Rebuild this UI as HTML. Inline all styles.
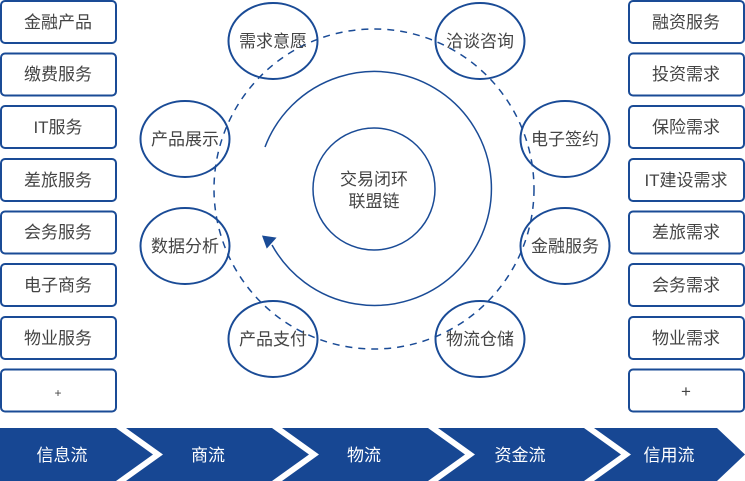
<!DOCTYPE html>
<html><head><meta charset="utf-8"><style>
body{margin:0;width:745px;height:481px;overflow:hidden;background:#fff}
svg{display:block}
text{font-family:"Liberation Sans","Noto Sans CJK SC",sans-serif}
</style></head><body>
<svg width="745" height="481" viewBox="0 0 745 481">
<g fill="none" stroke="#1a4b96" stroke-width="2">
<rect x="1" y="1" width="115" height="42" rx="4"/>
<rect x="1" y="53.5" width="115" height="42" rx="4"/>
<rect x="1" y="106" width="115" height="42" rx="4"/>
<rect x="1" y="159" width="115" height="42" rx="4"/>
<rect x="1" y="211.5" width="115" height="42" rx="4"/>
<rect x="1" y="264" width="115" height="42" rx="4"/>
<rect x="1" y="317" width="115" height="42" rx="4"/>
<rect x="1" y="369.5" width="115" height="42" rx="4"/>
<rect x="629" y="1" width="115" height="42" rx="4"/>
<rect x="629" y="53.5" width="115" height="42" rx="4"/>
<rect x="629" y="106" width="115" height="42" rx="4"/>
<rect x="629" y="159" width="115" height="42" rx="4"/>
<rect x="629" y="211.5" width="115" height="42" rx="4"/>
<rect x="629" y="264" width="115" height="42" rx="4"/>
<rect x="629" y="317" width="115" height="42" rx="4"/>
<rect x="629" y="369.5" width="115" height="42" rx="4"/>
<ellipse cx="273" cy="41" rx="44.5" ry="38"/>
<ellipse cx="480" cy="41" rx="44.5" ry="38"/>
<ellipse cx="185" cy="139" rx="44.5" ry="38"/>
<ellipse cx="565" cy="139" rx="44.5" ry="38"/>
<ellipse cx="185" cy="246" rx="44.5" ry="38"/>
<ellipse cx="565" cy="246" rx="44.5" ry="38"/>
<ellipse cx="273" cy="339" rx="44.5" ry="38"/>
<ellipse cx="480" cy="339" rx="44.5" ry="38"/>
</g>
<g fill="none" stroke="#1a4b96" stroke-width="1.5">
<circle cx="374" cy="189" r="160" stroke-dasharray="7 6"/>
<circle cx="374" cy="189" r="61"/>
<path d="M265 147 A117 117 0 1 1 272 245"/>
</g>
<polygon points="264,233 264,247 277,240" fill="#1a4b96" transform="rotate(-20 270 240)"/>
<g font-size="17" fill="#444" text-anchor="middle">
<text x="58" y="28">金融产品</text>
<text x="58" y="80">缴费服务</text>
<text x="58" y="133">IT服务</text>
<text x="58" y="186">差旅服务</text>
<text x="58" y="238">会务服务</text>
<text x="58" y="291">电子商务</text>
<text x="58" y="344">物业服务</text>
<text x="58" y="397" font-size="12">+</text>
<text x="686" y="28">融资服务</text>
<text x="686" y="80">投资需求</text>
<text x="686" y="133">保险需求</text>
<text x="686" y="186">IT建设需求</text>
<text x="686" y="238">差旅需求</text>
<text x="686" y="291">会务需求</text>
<text x="686" y="344">物业需求</text>
<text x="686" y="397">+</text>
<text x="273" y="47">需求意愿</text>
<text x="480" y="47">洽谈咨询</text>
<text x="185" y="145">产品展示</text>
<text x="565" y="145">电子签约</text>
<text x="185" y="252">数据分析</text>
<text x="565" y="252">金融服务</text>
<text x="273" y="345">产品支付</text>
<text x="480" y="345">物流仓储</text>
<text x="374" y="185">交易闭环</text>
<text x="374" y="207">联盟链</text>
</g>
<g fill="#174793">
<polygon points="0,428 116,428 153,454.5 116,481 0,481"/>
<polygon points="126,428 272,428 309,454.5 272,481 126,481 163,454.5"/>
<polygon points="282,428 428,428 465,454.5 428,481 282,481 319,454.5"/>
<polygon points="438,428 584,428 621,454.5 584,481 438,481 475,454.5"/>
<polygon points="594,428 717,428 745,454.5 717,481 594,481 631,454.5"/>
</g>
<g font-size="17" fill="#fff" text-anchor="middle">
<text x="62" y="461">信息流</text>
<text x="208" y="461">商流</text>
<text x="364" y="461">物流</text>
<text x="520" y="461">资金流</text>
<text x="669" y="461">信用流</text>
</g>
</svg>
</body></html>
